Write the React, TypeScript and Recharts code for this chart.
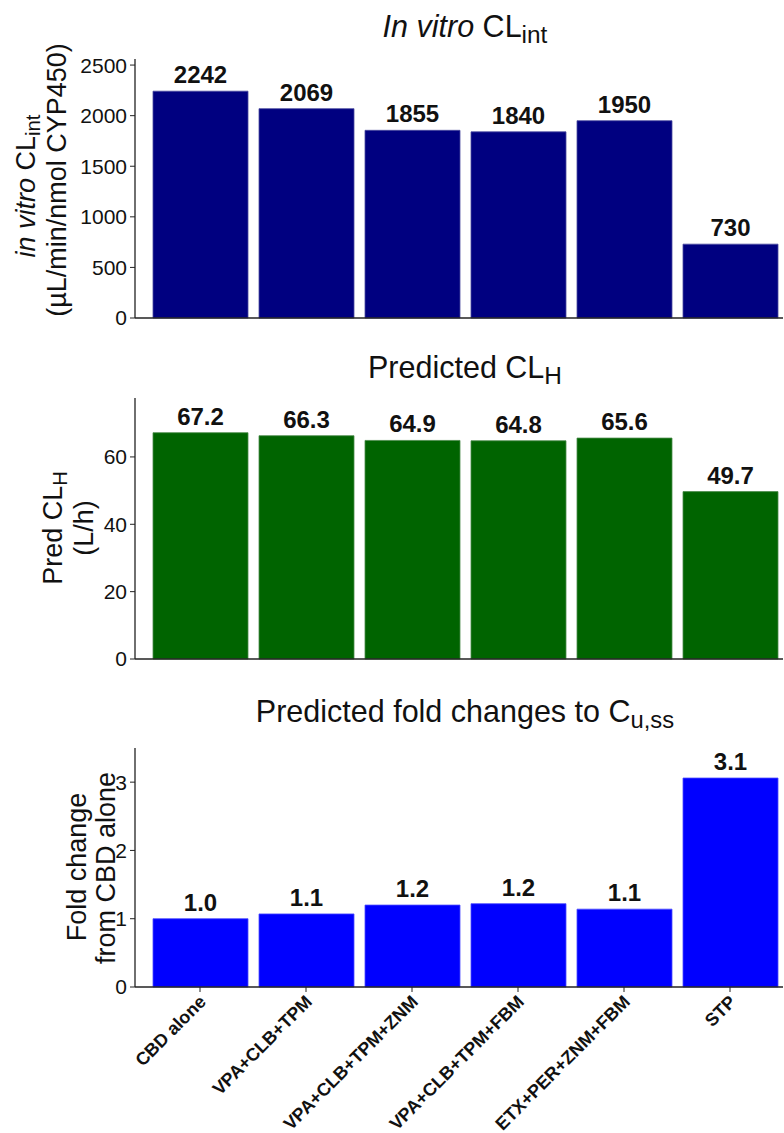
import React from 'react';
import { BarChart, Bar, XAxis, YAxis, LabelList } from 'recharts';

const categories = ['CBD alone', 'VPA+CLB+TPM', 'VPA+CLB+TPM+ZNM', 'VPA+CLB+TPM+FBM', 'ETX+PER+ZNM+FBM', 'STP'];
const clintValues = [2242, 2069, 1855, 1840, 1950, 730];
const clhValues = [67.2, 66.3, 64.9, 64.8, 65.6, 49.7];
const foldValues = [1.0, 1.07, 1.2, 1.22, 1.14, 3.06];
const clintTicks = [0, 500, 1000, 1500, 2000, 2500];
const clhTicks = [0, 20, 40, 60];
const foldTicks = [0, 1, 2, 3];

const FONT = '"Liberation Sans", Arial, Helvetica, sans-serif';

const build = (vals: number[]) => categories.map((name, i) => ({ name, v: vals[i] }));

const AngledTick = (props: any) => {
  const { x, y, payload } = props;
  return (
    <text
      transform={`translate(${x + 7},${y + 9}) rotate(-45)`}
      textAnchor="end"
      fontSize={18}
      fontWeight="bold"
      fill="#111"
      fontFamily={FONT}
    >
      {payload.value}
    </text>
  );
};

type PanelProps = {
  top: number;
  height: number;
  marginTop: number;
  xHeight: number;
  data: { name: string; v: number }[];
  domain: [number, number];
  ticks: number[];
  color: string;
  edge: string;
  fmt: (v: any) => string;
  showLabels: boolean;
};

const Panel = ({ top, height, marginTop, xHeight, data, domain, ticks, color, edge, fmt, showLabels }: PanelProps) => (
  <div style={{ position: 'absolute', left: 0, top, width: 784, height }}>
    <BarChart
      width={784}
      height={height}
      data={data}
      margin={{ top: marginTop, right: 1, bottom: 0, left: 0 }}
    >
      <XAxis
        dataKey="name"
        type="category"
        padding={{ left: 12, right: 0 }}
        height={xHeight}
        interval={0}
        tickSize={5}
        axisLine={{ stroke: '#222', strokeWidth: 1.3 }}
        tickLine={{ stroke: '#222' }}
        tick={showLabels ? <AngledTick /> : false}
      />
      <YAxis
        type="number"
        domain={domain}
        ticks={ticks}
        interval={0}
        width={135}
        tickSize={5}
        tickMargin={3}
        axisLine={{ stroke: '#222', strokeWidth: 1.3 }}
        tickLine={{ stroke: '#222' }}
        tick={{ fontSize: 21, fill: '#111', fontFamily: FONT }}
      />
      <Bar dataKey="v" fill={color} stroke={edge} strokeWidth={0.8} barSize={95} isAnimationActive={false}>
        <LabelList
          dataKey="v"
          position="top"
          offset={8}
          formatter={fmt}
          style={{ fontSize: 24, fontWeight: 'bold', fill: '#111', fontFamily: FONT }}
        />
      </Bar>
    </BarChart>
  </div>
);

export default function App() {
  const titleSize = 30.5;
  const labelSize = 27;
  return (
    <div style={{ position: 'absolute', left: 0, top: 0, width: 784, height: 1133, background: '#fff', fontFamily: FONT }}>
      <Panel top={0} height={330} marginTop={59} xHeight={12} data={build(clintValues)} domain={[0, 2560]} ticks={clintTicks} color="#000080" edge="#4a4aa0" fmt={(v: any) => String(v)} showLabels={false} />
      <Panel top={340} height={331} marginTop={58} xHeight={12} data={build(clhValues)} domain={[0, 77.5]} ticks={clhTicks} color="#006400" edge="#4a8a4a" fmt={(v: any) => Number(v).toFixed(1)} showLabels={false} />
      <Panel top={700} height={433} marginTop={48} xHeight={146} data={build(foldValues)} domain={[0, 3.5]} ticks={foldTicks} color="#0000FF" edge="#4a4aff" fmt={(v: any) => Number(v).toFixed(1)} showLabels={true} />
      <svg width={784} height={1133} style={{ position: 'absolute', left: 0, top: 0, pointerEvents: 'none' }} fontFamily={FONT} fill="#111">
        {/* Titles */}
        <text x={465} y={37} textAnchor="middle" fontSize={titleSize}>
          <tspan fontStyle="italic">In vitro</tspan>
          <tspan> CL</tspan>
          <tspan fontSize={titleSize * 0.8} dy={6}>int</tspan>
        </text>
        <text x={465} y={378} textAnchor="middle" fontSize={titleSize}>
          <tspan>Predicted CL</tspan>
          <tspan fontSize={titleSize * 0.8} dy={6}>H</tspan>
        </text>
        <text x={465} y={722} textAnchor="middle" fontSize={titleSize}>
          <tspan>Predicted fold changes to C</tspan>
          <tspan fontSize={titleSize * 0.78} dy={6}>u,ss</tspan>
        </text>

        {/* Y labels panel 1 */}
        <text transform="translate(35,186) rotate(-90)" textAnchor="middle" fontSize={labelSize}>
          <tspan fontStyle="italic">in vitro</tspan>
          <tspan> CL</tspan>
          <tspan fontSize={labelSize * 0.75} dy={5}>int</tspan>
        </text>
        <text transform="translate(66,180) rotate(-90)" textAnchor="middle" fontSize={labelSize}>
          (µL/min/nmol CYP450)
        </text>

        {/* Y labels panel 2 */}
        <text transform="translate(62,528) rotate(-90)" textAnchor="middle" fontSize={labelSize}>
          <tspan>Pred CL</tspan>
          <tspan fontSize={labelSize * 0.75} dy={5}>H</tspan>
        </text>
        <text transform="translate(93,528) rotate(-90)" textAnchor="middle" fontSize={labelSize}>
          (L/h)
        </text>

        {/* Y labels panel 3 */}
        <text transform="translate(86,867) rotate(-90)" textAnchor="middle" fontSize={labelSize}>
          Fold change
        </text>
        <text transform="translate(115,868) rotate(-90)" textAnchor="middle" fontSize={labelSize}>
          from CBD alone
        </text>
      </svg>
    </div>
  );
}
